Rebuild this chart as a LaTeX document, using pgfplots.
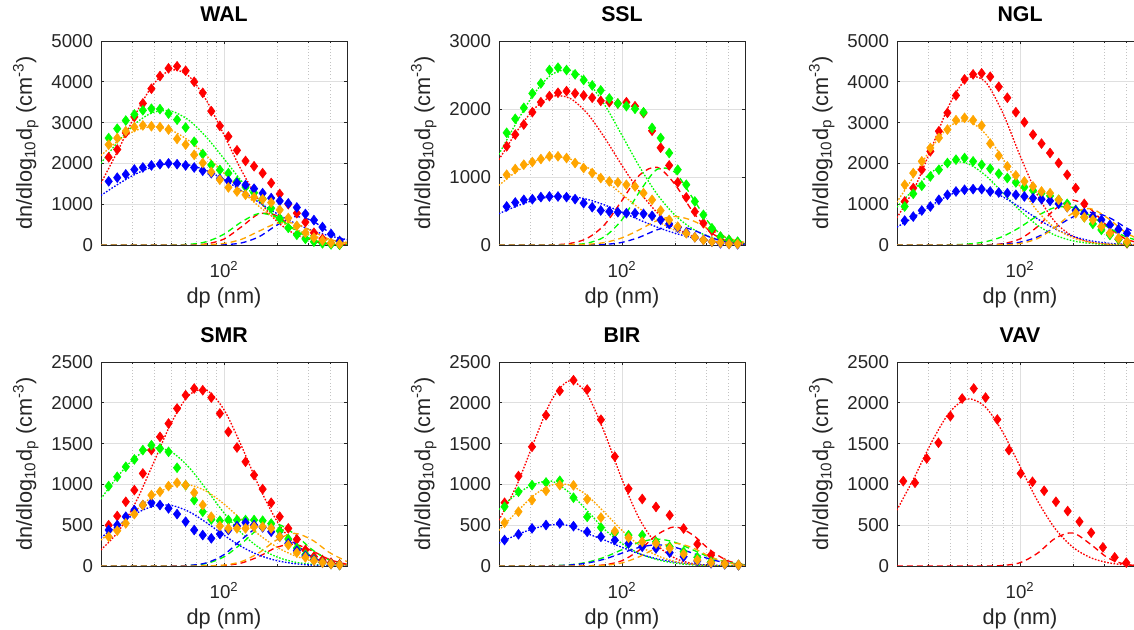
\documentclass[border=0pt]{standalone}
\usepackage{fontspec}
\setmainfont{Liberation Sans}
\usepackage{pgfplots}
\usepackage{pgfplotstable}
\pgfplotsset{compat=1.18}

\definecolor{axc}{RGB}{38,38,38}
\definecolor{gridc}{RGB}{223,223,223}
\definecolor{mgridc}{RGB}{195,195,195}
\definecolor{cR}{RGB}{255,0,0}
\definecolor{cG}{RGB}{0,255,0}
\definecolor{cO}{RGB}{255,165,0}
\definecolor{cB}{RGB}{0,0,255}

% measured spectra (diamonds)
\pgfplotstableread{
d r g o b
19.77 1970 2420 2300 1440
22.11 2150 2620 2460 1560
24.73 2340 2850 2620 1650
27.66 2750 3050 2790 1730
30.94 3140 3200 2890 1850
34.59 3470 3300 2930 1900
38.69 3830 3340 2910 1950
43.27 4140 3330 2890 1980
48.39 4330 3220 2830 2000
54.12 4380 3070 2600 1980
60.53 4270 2880 2460 1950
67.70 4000 2530 2210 1900
75.72 3730 2230 2010 1820
84.69 3280 1960 1790 1760
94.71 2920 1840 1600 1620
105.9 2660 1760 1410 1570
118.5 2320 1560 1310 1520
132.5 2060 1420 1230 1470
148.2 1930 1280 1170 1380
165.8 1760 1130 1120 1270
185.4 1520 900 1040 1150
207.3 1250 650 860 1080
231.9 1000 420 660 1020
259.3 780 250 470 920
290.1 560 150 300 760
324.3 300 80 180 610
362.8 150 40 110 440
405.7 40 15 50 270
453.8 10 5 25 100
}\walD

\pgfplotstableread{
d r g o b
22.11 1451 1650 1033 566
24.73 1624 1855 1117 625
27.66 1771 2017 1181 664
30.94 1953 2229 1220 674
34.59 2100 2376 1264 704
38.69 2190 2573 1304 713
43.27 2239 2608 1304 713
48.39 2263 2573 1279 704
54.12 2229 2509 1205 674
60.53 2199 2426 1132 615
67.70 2165 2347 1058 556
75.72 2120 2273 984 507
84.69 2100 2155 935 492
94.71 2080 2081 920 482
105.9 2100 2042 886 467
118.5 2040 2002 860 467
132.5 1940 1953 763 458
148.2 1680 1722 664 428
165.8 1430 1574 507 369
185.4 1170 1353 369 310
207.3 920 1107 270 256
231.9 700 886 172 182
259.3 490 640 113 113
290.1 320 443 74 74
324.3 210 246 49 49
362.8 120 123 34 25
405.7 70 74 15 15
453.8 40 49 15 10
}\sslD

\pgfplotstableread{
d r g o b
22.11 1066 943 1476 599
24.73 1394 1255 1763 697
27.66 1845 1451 2050 845
30.94 2296 1681 2378 943
34.59 2788 1845 2624 1107
38.69 3239 2009 2829 1230
43.27 3665 2091 3059 1312
48.39 4059 2132 3116 1353
54.12 4182 2050 3059 1369
60.53 4207 1968 2927 1369
67.70 4125 1870 2485 1312
75.72 3879 1747 2189 1287
84.69 3608 1640 1927 1271
94.71 3255 1533 1706 1230
105.9 3009 1419 1558 1189
118.5 2706 1337 1435 1148
132.5 2485 1271 1312 1123
148.2 2255 1205 1271 1082
165.8 2009 1107 1107 1009
185.4 1722 1009 927 927
207.3 1394 861 779 845
231.9 1009 680 680 779
259.3 700 517 615 697
290.1 450 369 451 615
324.3 290 246 287 492
362.8 140 139 164 385
405.7 40 57 82 287
}\nglD

\pgfplotstableread{
d r g o b
19.77 461 938 326 392
22.11 500 979 359 441
24.73 612 1093 432 502
27.66 787 1216 522 604
30.94 930 1306 636 685
34.59 1134 1420 747 747
38.69 1420 1481 869 775
43.27 1583 1440 910 747
48.39 1746 1399 979 706
54.12 1930 1204 1020 636
60.53 2093 990 991 543
67.70 2175 808 898 441
75.72 2154 665 747 379
84.69 2064 570 604 339
94.71 1869 555 490 392
105.9 1644 563 461 441
118.5 1452 563 461 490
132.5 1277 563 461 530
148.2 1114 563 481 502
165.8 942 555 481 473
185.4 775 520 461 420
207.3 604 430 359 359
231.9 461 330 257 277
259.3 326 220 163 188
290.1 196 140 106 122
324.3 114 80 65 73
362.8 73 45 41 41
405.7 41 25 24 24
453.8 20 12 12 12
}\smrD

\pgfplotstableread{
d r g o b
21.5 775 726 530 318
25.8 1102 910 665 388
30.8 1461 991 808 461
37.0 1848 1024 922 502
44.3 2146 1044 991 522
53.0 2277 837 988 488
63.4 2162 602 817 419
75.9 1793 472 593 358
91.0 1341 407 427 317
108.9 947 378 346 276
130.3 821 378 297 236
156.0 724 297 276 215
186.6 622 236 215 163
223.9 459 175 146 114
267.9 268 106 73 61
320.6 134 53 41 33
383.7 33 24 24 20
459.2 12 12 12 10
}\birD

\pgfplotstableread{
d r
21.7 1040
25.3 1020
29.5 1318
34.4 1510
40.2 1836
46.9 2052
54.6 2175
63.7 2064
74.3 1795
86.5 1420
100.9 1134
117.7 1032
137.1 922
160.0 787
186.6 673
217.8 543
253.6 408
295.8 228
345.1 106
401.8 41
}\vavD

% fitted modes: 1 = first mode (dotted), 2 = second mode (dashed)
\pgfplotstableread{
d r1 r2 g1 g2 o1 o2 b1 b2
19.95 1508 0 2001 0 2189 0 1213 0
25.12 2338 0 2542 0 2559 0 1496 0
31.62 3224 0 2990 0 2810 0 1744 0
39.81 3947 0 3254 0 2900 0 1920 0
50.12 4290 0 3280 2 2810 0 1998 0
63.10 4140 3 3060 15 2559 1 1964 0
79.43 3546 26 2642 80 2189 6 1824 1
100 2698 146 2113 266 1759 37 1602 8
125.9 1823 448 1564 566 1328 140 1328 51
158.5 1093 763 1071 773 942 340 1041 204
199.5 582 720 679 677 627 530 771 485
251.2 275 375 398 380 392 530 539 693
316.2 115 108 217 137 231 340 357 595
398.1 43 17 109 31 127 140 223 306
501.2 14 2 51 5 66 37 131 95
}\walF

\pgfplotstableread{
d r1 r2 g1 g2 o1 o2 b1 b2
19.95 1252 0 1330 0 876 0 460 0
25.12 1661 0 1800 0 1079 0 570 0
31.62 1999 0 2223 0 1230 0 659 0
39.81 2183 3 2505 0 1298 0 711 0
50.12 2162 21 2575 4 1268 2 716 0
63.10 1942 95 2415 26 1147 9 673 1
79.43 1582 296 2067 120 961 36 590 8
100 1168 656 1612 373 745 105 482 38
125.9 783 1029 1148 784 535 226 368 115
158.5 476 1142 745 1114 355 360 262 224
199.5 262 896 442 1072 218 420 174 280
251.2 131 498 239 697 124 360 108 224
316.2 59 196 118 307 65 226 63 115
398.1 24 54 53 92 32 105 34 38
501.2 9 11 22 18 14 36 17 8
}\sslF

\pgfplotstableread{
d r1 r2 g1 g2 o1 o2 b1 b2
19.95 665 0 928 0 1048 0 436 0
25.12 1392 0 1381 0 1707 0 694 0
31.62 2409 0 1791 0 2400 0 980 0
39.81 3449 0 2028 5 2910 0 1228 0
50.12 4088 0 2000 22 3041 0 1366 0
63.10 4013 4 1719 76 2741 0 1351 3
79.43 3257 31 1289 205 2132 5 1185 17
100 2191 149 843 435 1431 36 923 68
125.9 1219 452 480 717 827 158 639 199
158.5 562 881 239 921 413 438 392 431
199.5 214 1100 103 921 178 781 214 686
251.2 68 881 39 717 66 892 104 800
316.2 18 452 13 435 21 653 44 686
398.1 4 149 4 205 5 307 17 431
501.2 1 31 1 76 1 93 6 199
}\nglF

\pgfplotstableread{
d r1 r2 g1 g2 o1 o2 b1 b2
19.95 196 0 821 0 317 0 347 0
25.12 424 0 1108 0 490 0 502 0
31.62 788 0 1338 0 684 0 644 0
39.81 1266 0 1447 0 861 0 734 0
50.12 1752 0 1399 0 975 0 743 1
63.10 2092 0 1211 6 995 0 667 7
79.43 2155 1 938 31 916 2 532 38
100 1915 7 650 112 759 11 377 139
125.9 1467 37 403 276 567 54 237 324
158.5 970 118 224 459 382 164 132 482
199.5 553 229 111 516 232 320 66 462
251.2 272 267 49 392 127 400 29 283
316.2 115 187 20 202 62 320 11 112
398.1 42 79 7 70 28 164 4 28
501.2 13 20 2 17 11 54 1 5
}\smrF

\pgfplotstableread{
d r1 r2 g1 g2 o1 o2 b1 b2
19.95 560 0 690 0 436 0 280 0
25.12 980 0 880 0 658 0 380 0
31.62 1523 0 1000 0 866 0 460 0
39.81 2034 0 1040 4 993 0 505 3
50.12 2268 0 900 14 993 0 495 11
63.10 2109 2 683 45 866 1 400 35
79.43 1637 14 450 107 658 8 318 84
100 1061 65 275 200 436 38 228 158
125.9 573 197 150 291 251 115 148 229
158.5 258 384 78 330 127 224 88 260
199.5 97 480 35 291 56 280 48 229
251.2 30 384 14 200 21 224 24 158
316.2 8 197 5 107 7 115 10 84
398.1 2 65 2 45 2 38 4 35
501.2 0 14 0 14 1 8 1 11
}\birF

\pgfplotstableread{
d r1 r2
19.95 684 0
25.12 1089 0
31.62 1527 0
39.81 1884 0
50.12 2047 0
63.10 1956 0
79.43 1648 6
100 1221 40
125.9 797 157
158.5 457 339
199.5 231 405
251.2 103 268
316.2 40 98
398.1 14 20
501.2 4 2
}\vavF

\pgfplotsset{
  sdpanel/.style={
    scale only axis, width=184.5pt, height=153pt,
    xmin=20, xmax=500, ymin=0,
    xtick={100}, xticklabels={10\textsuperscript{2}},
    minor xtick={30,40,50,60,70,80,90,200,300,400},
    xmajorgrids, ymajorgrids, xminorgrids,
    major grid style={gridc, line width=0.5pt},
    minor grid style={mgridc, line width=0.5pt, dash pattern=on 0.8pt off 1.6pt},
    axis line style={axc, line width=0.5pt},
    tick style={axc, line width=0.5pt},
    tick align=inside, major tick length=2pt, minor tick length=1.2pt,
    yticklabel style={/pgf/number format/assume math mode=true, /pgf/number format/1000 sep={}},
    scaled y ticks=false,
    tick label style={font=\fontsize{14pt}{17pt}\selectfont, text=axc, inner sep=0pt},
    yticklabel style={anchor=east, xshift=-5.8pt},
    xticklabel style={anchor=base, yshift=-24.2pt},
    xlabel={dp (nm)},
    ylabel={dn/dlog\textsubscript{10}d\textsubscript{p} (cm\textsuperscript{-3})},
    label style={font=\fontsize{16.3pt}{19pt}\selectfont, text=axc, inner sep=0pt},
    xlabel style={at={(axis description cs:0.5,-0.289)}, anchor=base},
    ylabel style={at={(axis description cs:-0.2805,0.5)}, anchor=base},
    title style={at={(axis description cs:0.5,1.0574)}, anchor=base,
      font=\fontsize{16pt}{19pt}\selectfont\bfseries, inner sep=0pt},
  },
  sddia/.style={only marks, mark=diamond*, mark size=3.7pt},
  sdfitA/.style={no marks, smooth, line width=1pt, dash pattern=on 1.2pt off 1.2pt},
  sdfitB/.style={no marks, smooth, line width=1pt, dash pattern=on 4.5pt off 3pt},
}

% one colour: dotted mode, dashed mode, then the measured diamonds
\newcommand{\oneseries}[5]{%
  \addplot[sdfitA,#1] table[x=d,y=#51]{#4};
  \addplot[sdfitB,#1] table[x=d,y=#52]{#4};
  \addplot[sddia,#1] table[x=d,y=#3]{#2};
}
\newcommand{\allfour}[2]{%
  \oneseries{cR}{#1}{r}{#2}{r}
  \oneseries{cG}{#1}{g}{#2}{g}
  \oneseries{cB}{#1}{b}{#2}{b}
  \oneseries{cO}{#1}{o}{#2}{o}
}

\begin{document}
\begin{tikzpicture}
\useasboundingbox (0,0) rectangle (850.5pt,472.5pt);

\begin{semilogxaxis}[sdpanel, at={(75.75pt,288.75pt)}, anchor=south west,
  title={WAL}, ymax=5000, ytick={0,1000,2000,3000,4000,5000}]
\allfour{\walD}{\walF}
\end{semilogxaxis}

\begin{semilogxaxis}[sdpanel, at={(374.25pt,288.75pt)}, anchor=south west,
  title={SSL}, ymax=3000, ytick={0,1000,2000,3000}]
\allfour{\sslD}{\sslF}
\end{semilogxaxis}

\begin{semilogxaxis}[sdpanel, at={(672.75pt,288.75pt)}, anchor=south west,
  title={NGL}, ymax=5000, ytick={0,1000,2000,3000,4000,5000}]
\allfour{\nglD}{\nglF}
\end{semilogxaxis}

\begin{semilogxaxis}[sdpanel, at={(75.75pt,48pt)}, anchor=south west,
  title={SMR}, ymax=2500, ytick={0,500,1000,1500,2000,2500}]
\allfour{\smrD}{\smrF}
\end{semilogxaxis}

\begin{semilogxaxis}[sdpanel, at={(374.25pt,48pt)}, anchor=south west,
  title={BIR}, ymax=2500, ytick={0,500,1000,1500,2000,2500}]
\allfour{\birD}{\birF}
\end{semilogxaxis}

\begin{semilogxaxis}[sdpanel, at={(672.75pt,48pt)}, anchor=south west,
  title={VAV}, ymax=2500, ytick={0,500,1000,1500,2000,2500}]
\oneseries{cR}{\vavD}{r}{\vavF}{r}
\end{semilogxaxis}
\end{tikzpicture}
\end{document}
